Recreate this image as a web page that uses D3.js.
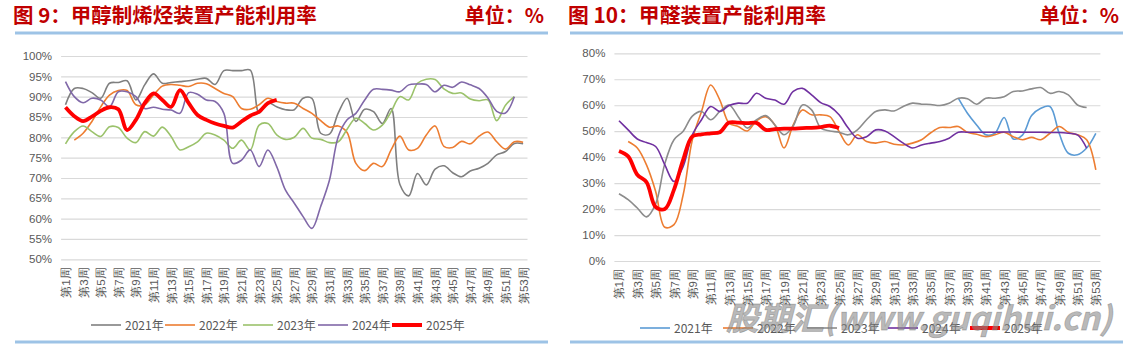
<!DOCTYPE html>
<html><head><meta charset="utf-8">
<script src="https://cdn.jsdelivr.net/npm/d3@7"></script>
<style>
html,body{margin:0;padding:0;background:#fff;}
svg{display:block;font-family:"Noto Sans CJK SC","Noto Sans",sans-serif;}
</style></head>
<body><svg id="c" width="1128" height="347"></svg>
<script>
// ---------- DATA ----------
const weeks = d3.range(1, 54);
const weekLabels = weeks.map(w => "第" + w + "周");
const legendNames = ["2021年", "2022年", "2023年", "2024年", "2025年"];

// Figure 9: MTO utilisation (%)
const mto2021 = [88,92,92,91,89.6,93.3,93.5,93.9,89.2,92.9,95.6,93.3,93.5,93.7,93.9,94.3,94.5,93,96.4,96.4,96.4,96.5,86,88.5,87.5,86.8,86.8,89.6,89.6,81,80.8,86,89.6,83.9,86.9,86.3,83.4,87.1,68.4,65.6,71.1,68.3,72.2,73,71.3,70.3,71.7,72.4,73.6,75.7,76.5,78.5,78.4];
const mto2022 = [null,79.3,81,83.9,87.5,90.4,91.5,91.5,88,88,90.4,92.6,93,92.8,92.5,93.3,93.2,92,90.8,90,87.1,86.9,88,89.6,88.8,88.4,88.4,87.1,85.9,84.1,82.5,82.8,81.2,73.6,71.8,73.6,72.8,76.9,80.3,76.9,77.3,80.6,82.8,77.8,77.5,79,78.4,80.3,81.3,78.9,77.1,78.9,78.8];
const mto2023 = [78.4,81.4,82.8,81.4,80.2,82.6,82.4,79.8,78.7,81.4,80.3,82.5,80.2,76.9,77.7,78.9,81,80.6,79.3,77.3,79.3,76.9,83,83.4,80.6,79.5,80,82.2,79.8,79.5,78.7,78.9,82,84.7,83.4,81.8,83,86.3,90,89.2,93.3,94.3,94.2,91.9,90.8,90.9,89.4,89,89.2,84.1,87.9,90,null];
const mto2024 = [93.7,90,88.5,89.6,89.2,87.5,91.2,91.2,90,87.1,87.4,86.9,86.7,85.9,91,90.6,89.2,88.8,85.9,73.6,74.4,76.9,72.8,76.9,72.8,67,63.8,60.5,57.6,63,69.5,80.2,84.3,85.9,89.2,91.8,91.8,91.6,91.2,92.9,93.1,93,91.2,92.8,92.3,93.6,92.9,92,89.7,86.4,86,90,null];
const mto2025 = [87.4,85.2,84,85.1,86.5,87.4,86.9,81.8,84.3,88.4,90.8,89.2,87.5,91.6,88.4,85.5,84.3,83.4,82.8,82.4,83.9,85.3,86.3,88.4,89.2];
const mtoTicks = [50,55,60,65,70,75,80,85,90,95,100];

// Figure 10: formaldehyde utilisation (%)
const hcho2021 = [null,null,null,null,null,null,null,null,null,null,null,null,null,null,null,null,null,null,null,null,null,null,null,null,null,null,null,null,null,null,null,null,null,null,null,null,null,62.7,56.9,52.4,48.6,49.2,55.3,47,48.5,56,58.8,59.5,49.2,41.5,40.9,43.5,49.2];
const hcho2022 = [null,46,43.5,37,26.8,13,14,25.5,46.7,57.6,67.8,62,53.1,51.8,50.1,54,55.6,52.4,43.5,52.4,58.2,56.3,56.3,55.6,49.9,44.7,48.6,46,45.4,46,45,44.7,45.4,46.7,49.4,51.4,51.4,51.8,49.6,48.8,47.9,48.6,49.6,47.9,46.7,47.6,46.7,49.2,51.8,49.6,48.6,46.7,35.1];
const hcho2023 = [25.9,23.6,20.4,17,22,37.5,46.7,50,55.8,57.6,54.4,57.6,60.1,55.6,51.2,54.4,56,52.4,48.6,52,60.1,58.2,51.2,50.1,49.6,48.6,50.5,54.4,57.6,58.2,57.8,59.5,60.8,60.4,60.3,59.9,60.8,62.7,62.5,60.4,62.7,62.7,63.3,65.3,65.5,66.3,66.8,64.6,65.3,64,60.1,59.1,null];
const hcho2024 = [54,50.5,47,45.6,44.1,37,30.6,36.4,48.6,54.4,59.5,57.6,59.9,60.8,60.8,64.6,62.7,62,60.4,65.3,66.5,64,61,59.5,56.3,51.2,47.3,47.9,50.5,50.1,47.9,45.4,43.5,44.7,45.4,46,47.3,49.6,49.6,49.6,49.6,49.6,49.7,49.7,49.6,49.6,49.6,49.5,49.5,49.2,48.6,43.5,null];
const hcho2025 = [42.4,40.3,33.2,30.4,20.8,20,27.5,39,48,48.8,49.2,49.6,53.3,53.3,53.1,53.2,50.5,50.8,51,51,51.2,51.3,51.6,52.1,51.2];
const hchoTicks = [0,10,20,30,40,50,60,70,80];

// ---------- DRAW ----------
const svg = d3.select("#c");
const TXT = "#595959", GRID = "#D9D9D9";

function header(x0, x1, title, size) {
  svg.append("text").attr("x", x0 - 2).attr("y", 22.5).attr("fill", "#C00000")
    .attr("font-size", size).attr("font-weight", 700).text(title);
  svg.append("text").attr("x", x1 - 4).attr("y", 22.5).attr("fill", "#C00000")
    .attr("text-anchor", "end").attr("font-size", 20).attr("font-weight", 700).text("单位：%");
  svg.append("line").attr("x1", x0).attr("x2", x1).attr("y1", 33).attr("y2", 33)
    .attr("stroke", "#9DC3E6").attr("stroke-width", 3);
  svg.append("line").attr("x1", x0).attr("x2", x1).attr("y1", 342).attr("y2", 342)
    .attr("stroke", "#9DC3E6").attr("stroke-width", 3);
}

function chart(cfg) {
  const x = d3.scalePoint().domain(weeks).range(cfg.xr).padding(0.5);
  const y = d3.scaleLinear().domain(cfg.yd).range(cfg.yr);
  const g = svg.append("g");
  // y axis + grid
  const ya = g.append("g").attr("transform", `translate(${cfg.xr[0]},0)`)
    .call(d3.axisLeft(y).tickValues(cfg.ticks).tickFormat(d => d + "%")
      .tickSize(-(cfg.xr[1] - cfg.xr[0])).tickPadding(9));
  ya.select(".domain").remove();
  ya.selectAll("line").attr("stroke", GRID).attr("stroke-width", 1.2);
  ya.selectAll("text").attr("fill", TXT).attr("font-size", 11.5)
    .attr("font-family", "Liberation Sans, Arial, sans-serif");
  // x axis labels
  const xa = g.append("g").attr("transform", `translate(0,${cfg.yr[0]})`)
    .call(d3.axisBottom(x).tickValues(weeks.filter(w => w % 2 === 1))
      .tickFormat(w => weekLabels[w - 1]).tickSize(0));
  xa.select(".domain").remove();
  xa.selectAll("text").attr("fill", TXT).attr("font-size", 11.5)
    .attr("text-anchor", "end").attr("dy", null)
    .attr("transform", "translate(4," + cfg.labOff + ") rotate(-90)").attr("x", 0).attr("y", 0);
  // lines
  cfg.series.forEach((s, i) => {
    const line = d3.line().defined(d => d != null)
      .x((d, j) => x(weeks[j])).y(d => y(d)).curve(d3.curveCatmullRom.alpha(0.5));
    g.append("path").datum(s.data).attr("d", line).attr("fill", "none")
      .attr("stroke", cfg.colors[i]).attr("stroke-width", i === 4 ? 3.8 : 1.6)
      .attr("stroke-linejoin", "round");
  });
  // legend
  const lg = g.append("g");
  cfg.legendX.forEach((lx, i) => {
    lg.append("line").attr("x1", lx).attr("x2", lx + 30).attr("y1", cfg.legendY).attr("y2", cfg.legendY)
      .attr("stroke", cfg.colors[i]).attr("stroke-width", i === 4 ? 4 : 1.6);
    lg.append("text").attr("x", lx + 34).attr("y", cfg.legendY + 4.5).attr("fill", TXT)
      .attr("font-size", 12).text(legendNames[i]);
  });
}

header(15, 548, "图 9：甲醇制烯烃装置产能利用率", 20.5);
header(570, 1123, "图 10：甲醛装置产能利用率", 20.8);

chart({
  xr: [61.1, 527.5], yd: [50, 100], yr: [259.3, 56], ticks: mtoTicks, labOff: 8,
  colors: ["#7F7F7F", "#ED7D31", "#9BC26B", "#8068A8", "#FF0000"],
  series: [{data: mto2021}, {data: mto2022}, {data: mto2023}, {data: mto2024}, {data: mto2025}],
  legendX: [91, 165, 243, 318, 392], legendY: 325
});
chart({
  xr: [614.4, 1100.4], yd: [0, 80], yr: [261, 53.3], ticks: hchoTicks, labOff: 8,
  colors: ["#5B9BD5", "#ED7D31", "#8C8C8C", "#7030A0", "#FF0000"],
  series: [{data: hcho2021}, {data: hcho2022}, {data: hcho2023}, {data: hcho2024}, {data: hcho2025}],
  legendX: [640, 723, 807, 888, 970], legendY: 328
});

// watermark
svg.append("text").attr("x", 726).attr("y", 330).attr("font-size", 32).attr("font-weight", 700)
  .attr("font-style", "italic").attr("fill", "#8a8a8a").attr("fill-opacity", 0.6)
  .attr("stroke", "#6a6a6a").attr("stroke-opacity", 0.4).attr("stroke-width", 0.8)
  .attr("textLength", 386).attr("lengthAdjust", "spacingAndGlyphs")
  .text("股期汇(www.guqihui.cn)");
</script></body></html>
